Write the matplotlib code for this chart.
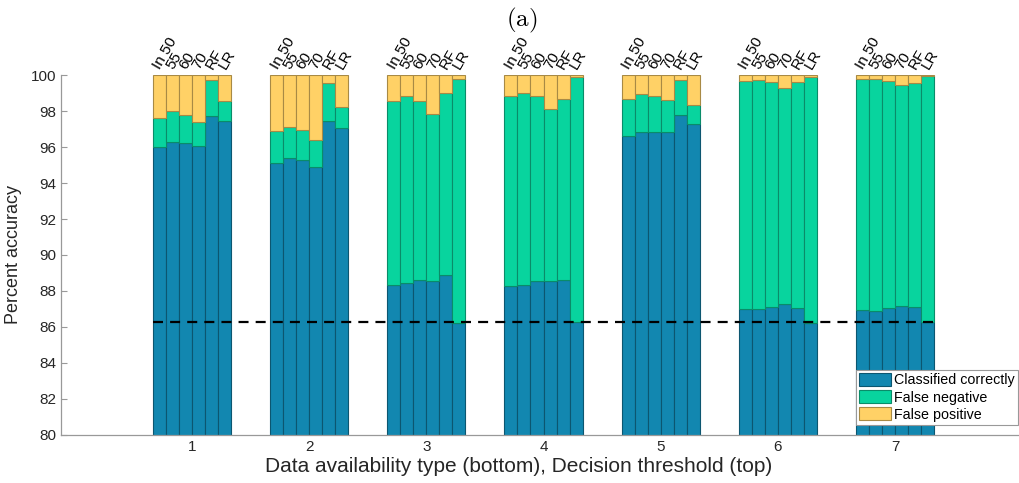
import numpy as np
import matplotlib
matplotlib.use("Agg")
import matplotlib.pyplot as plt
from matplotlib.patches import Patch

plt.rcParams["font.family"] = ["Liberation Sans", "DejaVu Sans"]
plt.rcParams["mathtext.fontset"] = "cm"

# Data availability types (bottom axis) and decision thresholds / models (top labels)
availability_types = [1, 2, 3, 4, 5, 6, 7]
threshold_labels = ["In 50", "55", "60", "70", "RF", "LR"]

# Percentages for each availability type (rows) and threshold/model (columns)
classified_correctly = [
    [95.98, 96.30, 96.22, 96.04, 97.72, 97.44],
    [95.11, 95.39, 95.26, 94.89, 97.44, 97.04],
    [88.33, 88.43, 88.61, 88.56, 88.89, 86.24],
    [88.28, 88.33, 88.56, 88.56, 88.61, 86.26],
    [96.59, 96.81, 96.81, 96.81, 97.78, 97.26],
    [86.98, 86.98, 87.09, 87.28, 87.04, 86.22],
    [86.93, 86.87, 87.04, 87.15, 87.09, 86.26],
]
false_negative = [
    [1.62, 1.70, 1.56, 1.33, 2.00, 1.10],
    [1.76, 1.74, 1.68, 1.50, 2.10, 1.20],
    [10.23, 10.39, 9.96, 9.25, 10.11, 13.56],
    [10.55, 10.67, 10.26, 9.53, 10.06, 13.64],
    [2.08, 2.13, 2.01, 1.78, 1.94, 1.09],
    [12.69, 12.72, 12.50, 12.00, 12.59, 13.68],
    [12.83, 12.93, 12.65, 12.28, 12.45, 13.71],
]
false_positive = [
    [2.40, 2.00, 2.22, 2.63, 0.28, 1.46],
    [3.13, 2.87, 3.06, 3.61, 0.46, 1.76],
    [1.44, 1.18, 1.43, 2.19, 1.00, 0.20],
    [1.17, 1.00, 1.18, 1.91, 1.33, 0.10],
    [1.33, 1.06, 1.18, 1.41, 0.28, 1.65],
    [0.33, 0.30, 0.41, 0.72, 0.37, 0.10],
    [0.24, 0.20, 0.31, 0.57, 0.46, 0.03],
]
baseline_accuracy = 86.26

series = [
    ("Classified correctly", classified_correctly, "#1287B0", "#0C5670"),
    ("False negative", false_negative, "#08D49E", "#0A8C69"),
    ("False positive", false_positive, "#FFD166", "#A88A45"),
]

fig = plt.figure(figsize=(10.2, 4.83), dpi=100)
ax = fig.add_axes([0.0598, 0.0994, 0.9392, 0.7453])

n_bars = len(threshold_labels)
bar_w = 0.111
x = np.array(availability_types, dtype=float)

bottoms = np.zeros((len(availability_types), n_bars))
for name, vals, fc, ec in series:
    vals = np.array(vals)
    for j in range(n_bars):
        pos = x + (j - (n_bars - 1) / 2) * bar_w
        ax.bar(pos, vals[:, j], width=bar_w, bottom=bottoms[:, j],
               color=fc, edgecolor=ec, linewidth=0.8, zorder=2)
    bottoms += vals

# Majority-class baseline across all groups
x_left = x[0] - n_bars / 2 * bar_w
x_right = x[-1] + n_bars / 2 * bar_w
ax.plot([x_left, x_right], [baseline_accuracy, baseline_accuracy],
        color="black", linestyle=(0, (4.5, 3.2)), linewidth=1.6, zorder=4)

# Threshold / model labels above each bar
for xi in x:
    for j, lab in enumerate(threshold_labels):
        pos = xi + (j - (n_bars - 1) / 2) * bar_w
        ax.text(pos + 0.03, 100.2, lab, rotation=60, rotation_mode="anchor",
                ha="left", va="bottom", fontsize=11, color="black",
                clip_on=False)

ax.set_ylim(80, 100)
ax.set_xlim(-0.118, 8.058)
ax.set_yticks(np.arange(80, 101, 2))
ax.set_xticks(availability_types)
ax.tick_params(direction="in", length=4, color="#999999", labelcolor="#262626",
               labelsize=11, width=0.8)
for side in ("top", "right"):
    ax.spines[side].set_visible(False)
for side in ("left", "bottom"):
    ax.spines[side].set_color("#999999")
    ax.spines[side].set_linewidth(0.9)

ax.set_ylabel("Percent accuracy", fontsize=13, color="#262626", labelpad=6)
fig.text(519 / 1020, 1 - 467 / 483,
         "Data availability type (bottom), Decision threshold (top)",
         fontsize=15, color="#262626", ha="center", va="center")

handles = [Patch(facecolor=fc, edgecolor=ec, linewidth=0.8, label=name)
           for name, _, fc, ec in series]
leg = ax.legend(handles=handles, loc="lower right",
                bbox_to_anchor=(0.999, 0.028), fontsize=10.3,
                frameon=True, fancybox=False, framealpha=1,
                edgecolor="#999999", borderpad=0.22, labelspacing=0.2,
                handlelength=2.2, handleheight=1.0, handletextpad=0.25,
                borderaxespad=0.0)
leg.get_frame().set_linewidth(0.8)
leg.set_zorder(5)

fig.text(522 / 1020, 1 - 20 / 483, r"$\mathrm{(a)}$", fontsize=18,
         ha="center", va="center")

fig.savefig("out.png", dpi=100)
